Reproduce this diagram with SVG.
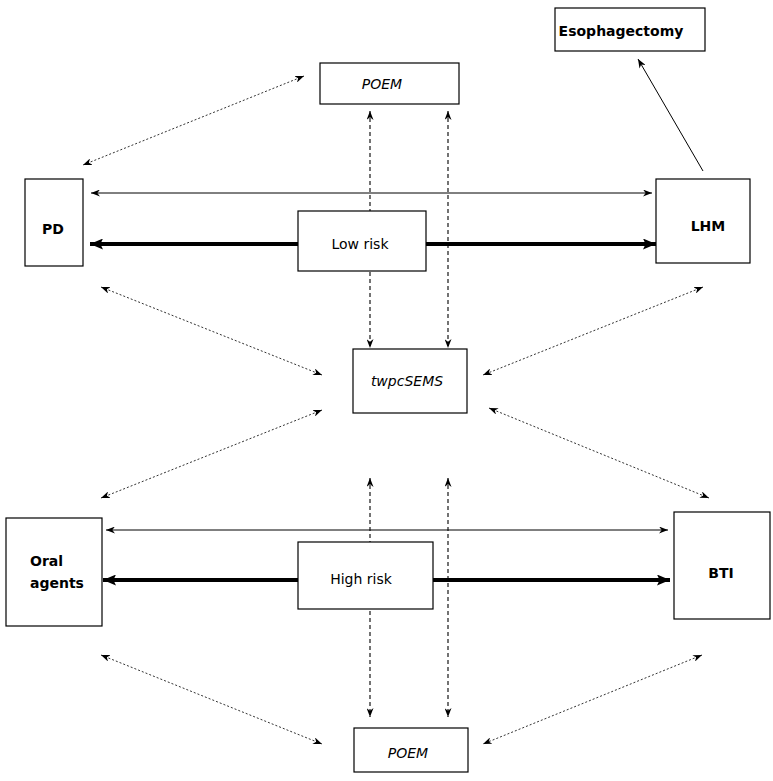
<svg xmlns="http://www.w3.org/2000/svg" width="773" height="781" viewBox="0 0 773 781">
<style>
.box{fill:#fff;stroke:#000;stroke-width:1.2}
.t{font-family:"DejaVu Sans","Verdana",sans-serif;font-size:14px;fill:#000;text-anchor:middle}
.b{font-weight:bold}
.i{font-style:italic}
.thin{stroke:#000;stroke-width:1;fill:none}
.thick{stroke:#000;stroke-width:4;fill:none}
.dash{stroke:#000;stroke-width:1.1;fill:none;stroke-dasharray:4,3}
.dot{stroke:#333;stroke-width:1;fill:none;stroke-dasharray:2,2}
</style>
<defs>
<marker id="a" viewBox="0 0 10 10" refX="10" refY="5" markerUnits="userSpaceOnUse" markerWidth="9" markerHeight="7" preserveAspectRatio="none" orient="auto-start-reverse">
<path d="M0,0 L10,5 L0,10 L3,5 z" fill="#000"/>
</marker>
<marker id="ab" viewBox="0 0 10 10" refX="10" refY="5" markerUnits="userSpaceOnUse" markerWidth="13" markerHeight="11" preserveAspectRatio="none" orient="auto-start-reverse">
<path d="M0,0 L10,5 L0,10 L2,5 z" fill="#000"/>
</marker>
</defs>
<rect width="773" height="781" fill="#fff"/>
<g id="connectors">
<line class="thin" x1="91" y1="193" x2="652" y2="193" marker-start="url(#a)" marker-end="url(#a)"/>
<line class="thick" x1="90" y1="244" x2="656" y2="244" marker-start="url(#ab)" marker-end="url(#ab)"/>
<line class="thin" x1="106" y1="530" x2="668" y2="530" marker-start="url(#a)" marker-end="url(#a)"/>
<line class="thick" x1="103" y1="580" x2="670" y2="580" marker-start="url(#ab)" marker-end="url(#ab)"/>
<line class="thin" x1="703" y1="171" x2="638" y2="59" marker-end="url(#a)"/>
<line class="dash" x1="370" y1="111" x2="370" y2="348" marker-start="url(#a)" marker-end="url(#a)"/>
<line class="dash" x1="448" y1="111" x2="448" y2="348" marker-start="url(#a)" marker-end="url(#a)"/>
<line class="dash" x1="370" y1="478" x2="370" y2="717" marker-start="url(#a)" marker-end="url(#a)"/>
<line class="dash" x1="448" y1="478" x2="448" y2="717" marker-start="url(#a)" marker-end="url(#a)"/>
<line class="dot" x1="304" y1="76" x2="83" y2="165" marker-start="url(#a)" marker-end="url(#a)"/>
<line class="dot" x1="101" y1="287" x2="322" y2="375" marker-start="url(#a)" marker-end="url(#a)"/>
<line class="dot" x1="703" y1="287" x2="483" y2="375" marker-start="url(#a)" marker-end="url(#a)"/>
<line class="dot" x1="322" y1="410" x2="101" y2="498" marker-start="url(#a)" marker-end="url(#a)"/>
<line class="dot" x1="489" y1="408" x2="709" y2="498" marker-start="url(#a)" marker-end="url(#a)"/>
<line class="dot" x1="101" y1="655" x2="322" y2="744" marker-start="url(#a)" marker-end="url(#a)"/>
<line class="dot" x1="702" y1="655" x2="483" y2="744" marker-start="url(#a)" marker-end="url(#a)"/>
</g>
<g id="esophagectomy"><rect class="box" x="555" y="8" width="150" height="43"/><text class="t b" x="621" y="36">Esophagectomy</text></g>
<g id="poem-top"><rect class="box" x="320" y="63" width="139" height="41"/><text class="t i" x="382" y="89">POEM</text></g>
<g id="pd"><rect class="box" x="25" y="179" width="58" height="87"/><text class="t b" x="53" y="234">PD</text></g>
<g id="lhm"><rect class="box" x="656" y="179" width="94" height="84"/><text class="t b" x="708" y="231">LHM</text></g>
<g id="low-risk"><rect class="box" x="298" y="211" width="128" height="60"/><text class="t" x="360" y="249">Low risk</text></g>
<g id="twpcsems"><rect class="box" x="353" y="349" width="114" height="64"/><text class="t i" x="407" y="386">twpcSEMS</text></g>
<g id="oral-agents"><rect class="box" x="6" y="518" width="96" height="108"/><text class="t b" x="30" y="566" style="text-anchor:start">Oral</text><text class="t b" x="30" y="588" style="text-anchor:start">agents</text></g>
<g id="high-risk"><rect class="box" x="298" y="542" width="135" height="67"/><text class="t" x="361" y="584">High risk</text></g>
<g id="bti"><rect class="box" x="674" y="512" width="96" height="107"/><text class="t b" x="721" y="578">BTI</text></g>
<g id="poem-bottom"><rect class="box" x="354" y="728" width="114" height="44"/><text class="t i" x="408" y="758">POEM</text></g>
</svg>
